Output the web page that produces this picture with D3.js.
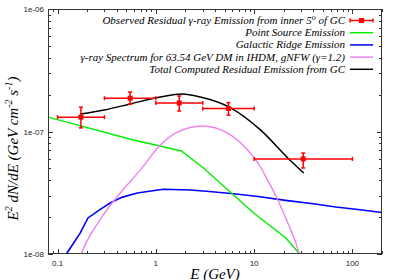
<!DOCTYPE html>
<html>
<head>
<meta charset="utf-8">
<script src="https://cdn.jsdelivr.net/npm/d3@7"></script>
<style>
  body { margin: 0; background: #fff; }
  .tick-label { font-family: "Liberation Sans", Arial, sans-serif; font-size: 8px; fill: #222; }
  .leg { font-family: "Liberation Serif", "Times New Roman", serif; font-style: italic; font-size: 11px; fill: #000; }
  .axis-title { font-family: "Liberation Serif", "Times New Roman", serif; font-style: italic; fill: #000; }
</style>
</head>
<body>
<svg id="chart" width="400" height="280"></svg>
<script>
// observed residual points (bins in GeV, flux in GeV cm^-2 s^-1)
const obsE = [0.173, 0.548, 1.73, 5.48, 31.6];
const obsLo = [0.1, 0.3, 1, 3, 10];
const obsHi = [0.3, 1, 3, 10, 100];
const obsVal = [1.31e-7, 1.87e-7, 1.71e-7, 1.54e-7, 5.97e-8];
const obsErrLow = [1.07e-7, 1.67e-7, 1.47e-7, 1.36e-7, 5.04e-8];
const obsErrHigh = [1.58e-7, 2.1e-7, 1.95e-7, 1.72e-7, 6.67e-8];

// point source emission
const psE = [0.08, 0.59, 1.11, 1.82, 3.05, 6.18, 9.9, 21, 28.5, 31];
const psVal = [1.31e-7, 8.53e-8, 7.61e-8, 6.93e-8, 5.04e-8, 3.03e-8, 2.16e-8, 1.35e-8, 1.02e-8, 0.93e-8];

// galactic ridge emission
const grE = [0.12, 0.125, 0.17, 0.204, 0.27, 0.342, 0.45, 0.648, 1.05, 1.2, 2.25, 3.5, 6.18, 11, 20.9, 40, 67.6, 120, 199];
const grVal = [0.93e-8, 1.02e-8, 1.48e-8, 1.97e-8, 2.3e-8, 2.61e-8, 2.9e-8, 3.15e-8, 3.33e-8, 3.38e-8, 3.33e-8, 3.24e-8, 3.1e-8, 2.95e-8, 2.74e-8, 2.57e-8, 2.42e-8, 2.3e-8, 2.18e-8];

// DM gamma-ray spectrum (63.54 GeV, IHDM, gNFW)
const dmE = [0.17, 0.174, 0.27, 0.435, 0.697, 1.11, 1.66, 2.98, 5.37, 8.6, 11.6, 13.7, 17.4, 22, 28.5, 29.5];
const dmVal = [0.95e-8, 1.0e-8, 1.9e-8, 3.15e-8, 4.86e-8, 7.76e-8, 9.9e-8, 1.11e-7, 9.7e-8, 7.06e-8, 5.13e-8, 4.02e-8, 2.76e-8, 1.79e-8, 1.02e-8, 0.9e-8];

// total computed residual emission
const totE = [0.17, 0.3, 0.55, 1.11, 1.86, 2.84, 5.76, 11.6, 22, 32];
const totVal = [1.39e-7, 1.5e-7, 1.68e-7, 1.91e-7, 2.02e-7, 1.91e-7, 1.56e-7, 1.03e-7, 6.08e-8, 4.58e-8];

const xTicks = [0.1, 1, 10, 100];
const xTickLabels = ["0.1", "1", "10", "100"];
const yTicks = [1e-8, 1e-7, 1e-6];
const yTickLabels = ["1e-08", "1e-07", "1e-06"];

const legendLabels = [
  "Observed Residual \u03b3-ray Emission from inner 5|o| of GC",
  "Point Source Emission",
  "Galactic Ridge Emission",
  "\u03b3-ray Spectrum for 63.54 GeV DM in IHDM, gNFW (\u03b3=1.2)",
  "Total Computed Residual Emission from GC"
];
const legendColors = ["#ff0000", "#00ee00", "#0000ff", "#ee82ee", "#000000"];

const margin = { top: 9, right: 18, bottom: 26, left: 48 };
const width = 400, height = 280;
const svg = d3.select("#chart");

const x = d3.scaleLog().domain([0.08, 200]).range([margin.left, width - margin.right]);
const y = d3.scaleLog().domain([1e-8, 1e-6]).range([height - margin.bottom, margin.top]);

const x0 = x.range()[0], x1 = x.range()[1];
const y0 = y.range()[0], y1 = y.range()[1];

svg.append("clipPath").attr("id", "plot-clip")
  .append("rect").attr("x", x0).attr("y", y1).attr("width", x1 - x0).attr("height", y0 - y1);

// ticks on all four sides, pointing inward
const minorX = [];
for (let p = -2; p <= 2; p++) for (let m = 1; m <= 9; m++) {
  const v = m * Math.pow(10, p);
  if (v >= 0.08 && v <= 200) minorX.push({ v, major: m === 1 });
}
const minorY = [];
for (let p = -8; p <= -6; p++) for (let m = 1; m <= 9; m++) {
  const v = m * Math.pow(10, p);
  if (v >= 1e-8 && v <= 1e-6 * 1.0001) minorY.push({ v, major: m === 1 });
}
const tickG = svg.append("g").attr("stroke", "#333").attr("stroke-width", 1);
minorX.forEach(t => {
  const px = Math.round(x(t.v)) + 0.5, len = t.major ? 5 : 3;
  tickG.append("line").attr("x1", px).attr("x2", px).attr("y1", y0).attr("y2", y0 - len);
  tickG.append("line").attr("x1", px).attr("x2", px).attr("y1", y1).attr("y2", y1 + len);
});
minorY.forEach(t => {
  const py = Math.round(y(t.v)) + 0.5, len = t.major ? 5 : 3;
  tickG.append("line").attr("x1", x0).attr("x2", x0 + len).attr("y1", py).attr("y2", py);
  tickG.append("line").attr("x1", x1).attr("x2", x1 - len).attr("y1", py).attr("y2", py);
});

xTicks.forEach((v, i) => {
  svg.append("text").attr("class", "tick-label")
    .attr("x", x(v)).attr("y", y0 + 12).attr("text-anchor", "middle").text(xTickLabels[i]);
});
yTicks.forEach((v, i) => {
  svg.append("text").attr("class", "tick-label")
    .attr("x", x0 - 4).attr("y", y(v) + 3).attr("text-anchor", "end").text(yTickLabels[i]);
});

// curves
const line = d3.line().x(d => x(d[0])).y(d => y(d[1]));
const smooth = d3.line().x(d => x(d[0])).y(d => y(d[1])).curve(d3.curveMonotoneX);
const plot = svg.append("g").attr("clip-path", "url(#plot-clip)");

plot.append("path").datum(d3.zip(grE, grVal)).attr("d", line)
  .attr("fill", "none").attr("stroke", legendColors[2]).attr("stroke-width", 1.6);
plot.append("path").datum(d3.zip(psE, psVal)).attr("d", line)
  .attr("fill", "none").attr("stroke", legendColors[1]).attr("stroke-width", 1.4);
plot.append("path").datum(d3.zip(dmE, dmVal)).attr("d", smooth)
  .attr("fill", "none").attr("stroke", legendColors[3]).attr("stroke-width", 1.4);
plot.append("path").datum(d3.zip(totE, totVal)).attr("d", smooth)
  .attr("fill", "none").attr("stroke", legendColors[4]).attr("stroke-width", 1.5);

// observed points with error bars
const obs = plot.append("g").attr("stroke", "#ff0000").attr("stroke-width", 1.5);
obsE.forEach((e, i) => {
  const cx = x(e), cy = y(obsVal[i]);
  obs.append("line").attr("x1", x(obsLo[i])).attr("x2", x(obsHi[i])).attr("y1", cy).attr("y2", cy);
  obs.append("line").attr("x1", x(obsLo[i])).attr("x2", x(obsLo[i])).attr("y1", cy - 2).attr("y2", cy + 2);
  obs.append("line").attr("x1", x(obsHi[i])).attr("x2", x(obsHi[i])).attr("y1", cy - 2).attr("y2", cy + 2);
  obs.append("line").attr("x1", cx).attr("x2", cx).attr("y1", y(obsErrHigh[i])).attr("y2", y(obsErrLow[i]));
  obs.append("line").attr("x1", cx - 2).attr("x2", cx + 2).attr("y1", y(obsErrHigh[i])).attr("y2", y(obsErrHigh[i]));
  obs.append("line").attr("x1", cx - 2).attr("x2", cx + 2).attr("y1", y(obsErrLow[i])).attr("y2", y(obsErrLow[i]));
  obs.append("rect").attr("x", cx - 2.5).attr("y", cy - 2.5).attr("width", 5).attr("height", 5)
    .attr("fill", "#ff0000").attr("stroke", "none");
});

// frame
svg.append("rect").attr("x", x0 + 0.5).attr("y", y1 + 0.5)
  .attr("width", x1 - x0 - 1).attr("height", y0 - y1 - 1)
  .attr("fill", "none").attr("stroke", "#333").attr("stroke-width", 1);

// legend
const legRight = 345, sampleX1 = 350, sampleX2 = 373;
legendLabels.forEach((lab, i) => {
  const cy = 20.5 + i * 12.2;
  const t = svg.append("text").attr("class", "leg").attr("x", legRight).attr("y", cy + 3.5)
    .attr("text-anchor", "end");
  const parts = lab.split("|");
  parts.forEach((p, k) => {
    if (k % 2 === 1) t.append("tspan").attr("dy", -4).attr("font-size", 8).text(p);
    else t.append("tspan").attr("dy", k === 0 ? 0 : 4).text(p);
  });
  svg.append("line").attr("x1", sampleX1).attr("x2", sampleX2).attr("y1", cy).attr("y2", cy)
    .attr("stroke", legendColors[i]).attr("stroke-width", 1.5);
  if (i === 0) {
    svg.append("line").attr("x1", sampleX1).attr("x2", sampleX1).attr("y1", cy - 2).attr("y2", cy + 2)
      .attr("stroke", legendColors[0]).attr("stroke-width", 1.5);
    svg.append("line").attr("x1", sampleX2).attr("x2", sampleX2).attr("y1", cy - 2).attr("y2", cy + 2)
      .attr("stroke", legendColors[0]).attr("stroke-width", 1.5);
    svg.append("rect").attr("x", (sampleX1 + sampleX2) / 2 - 2.5).attr("y", cy - 2.5)
      .attr("width", 5).attr("height", 5).attr("fill", legendColors[0]);
  }
});

// axis titles
svg.append("text").attr("class", "axis-title").attr("font-size", 15)
  .attr("x", (x0 + x1) / 2).attr("y", 279).attr("text-anchor", "middle").text("E (GeV)");

const yt = svg.append("text").attr("class", "axis-title").attr("font-size", 15)
  .attr("transform", `translate(18, ${(y0 + y1) / 2 + 17}) rotate(-90)`)
  .attr("text-anchor", "middle");
yt.append("tspan").text("E");
yt.append("tspan").attr("dy", -6).attr("font-size", 10).text("2");
yt.append("tspan").attr("dy", 6).text(" dN/dE (GeV cm");
yt.append("tspan").attr("dy", -6).attr("font-size", 10).text("-2");
yt.append("tspan").attr("dy", 6).text(" s");
yt.append("tspan").attr("dy", -6).attr("font-size", 10).text("-1");
yt.append("tspan").attr("dy", 6).text(")");
</script>
</body>
</html>
